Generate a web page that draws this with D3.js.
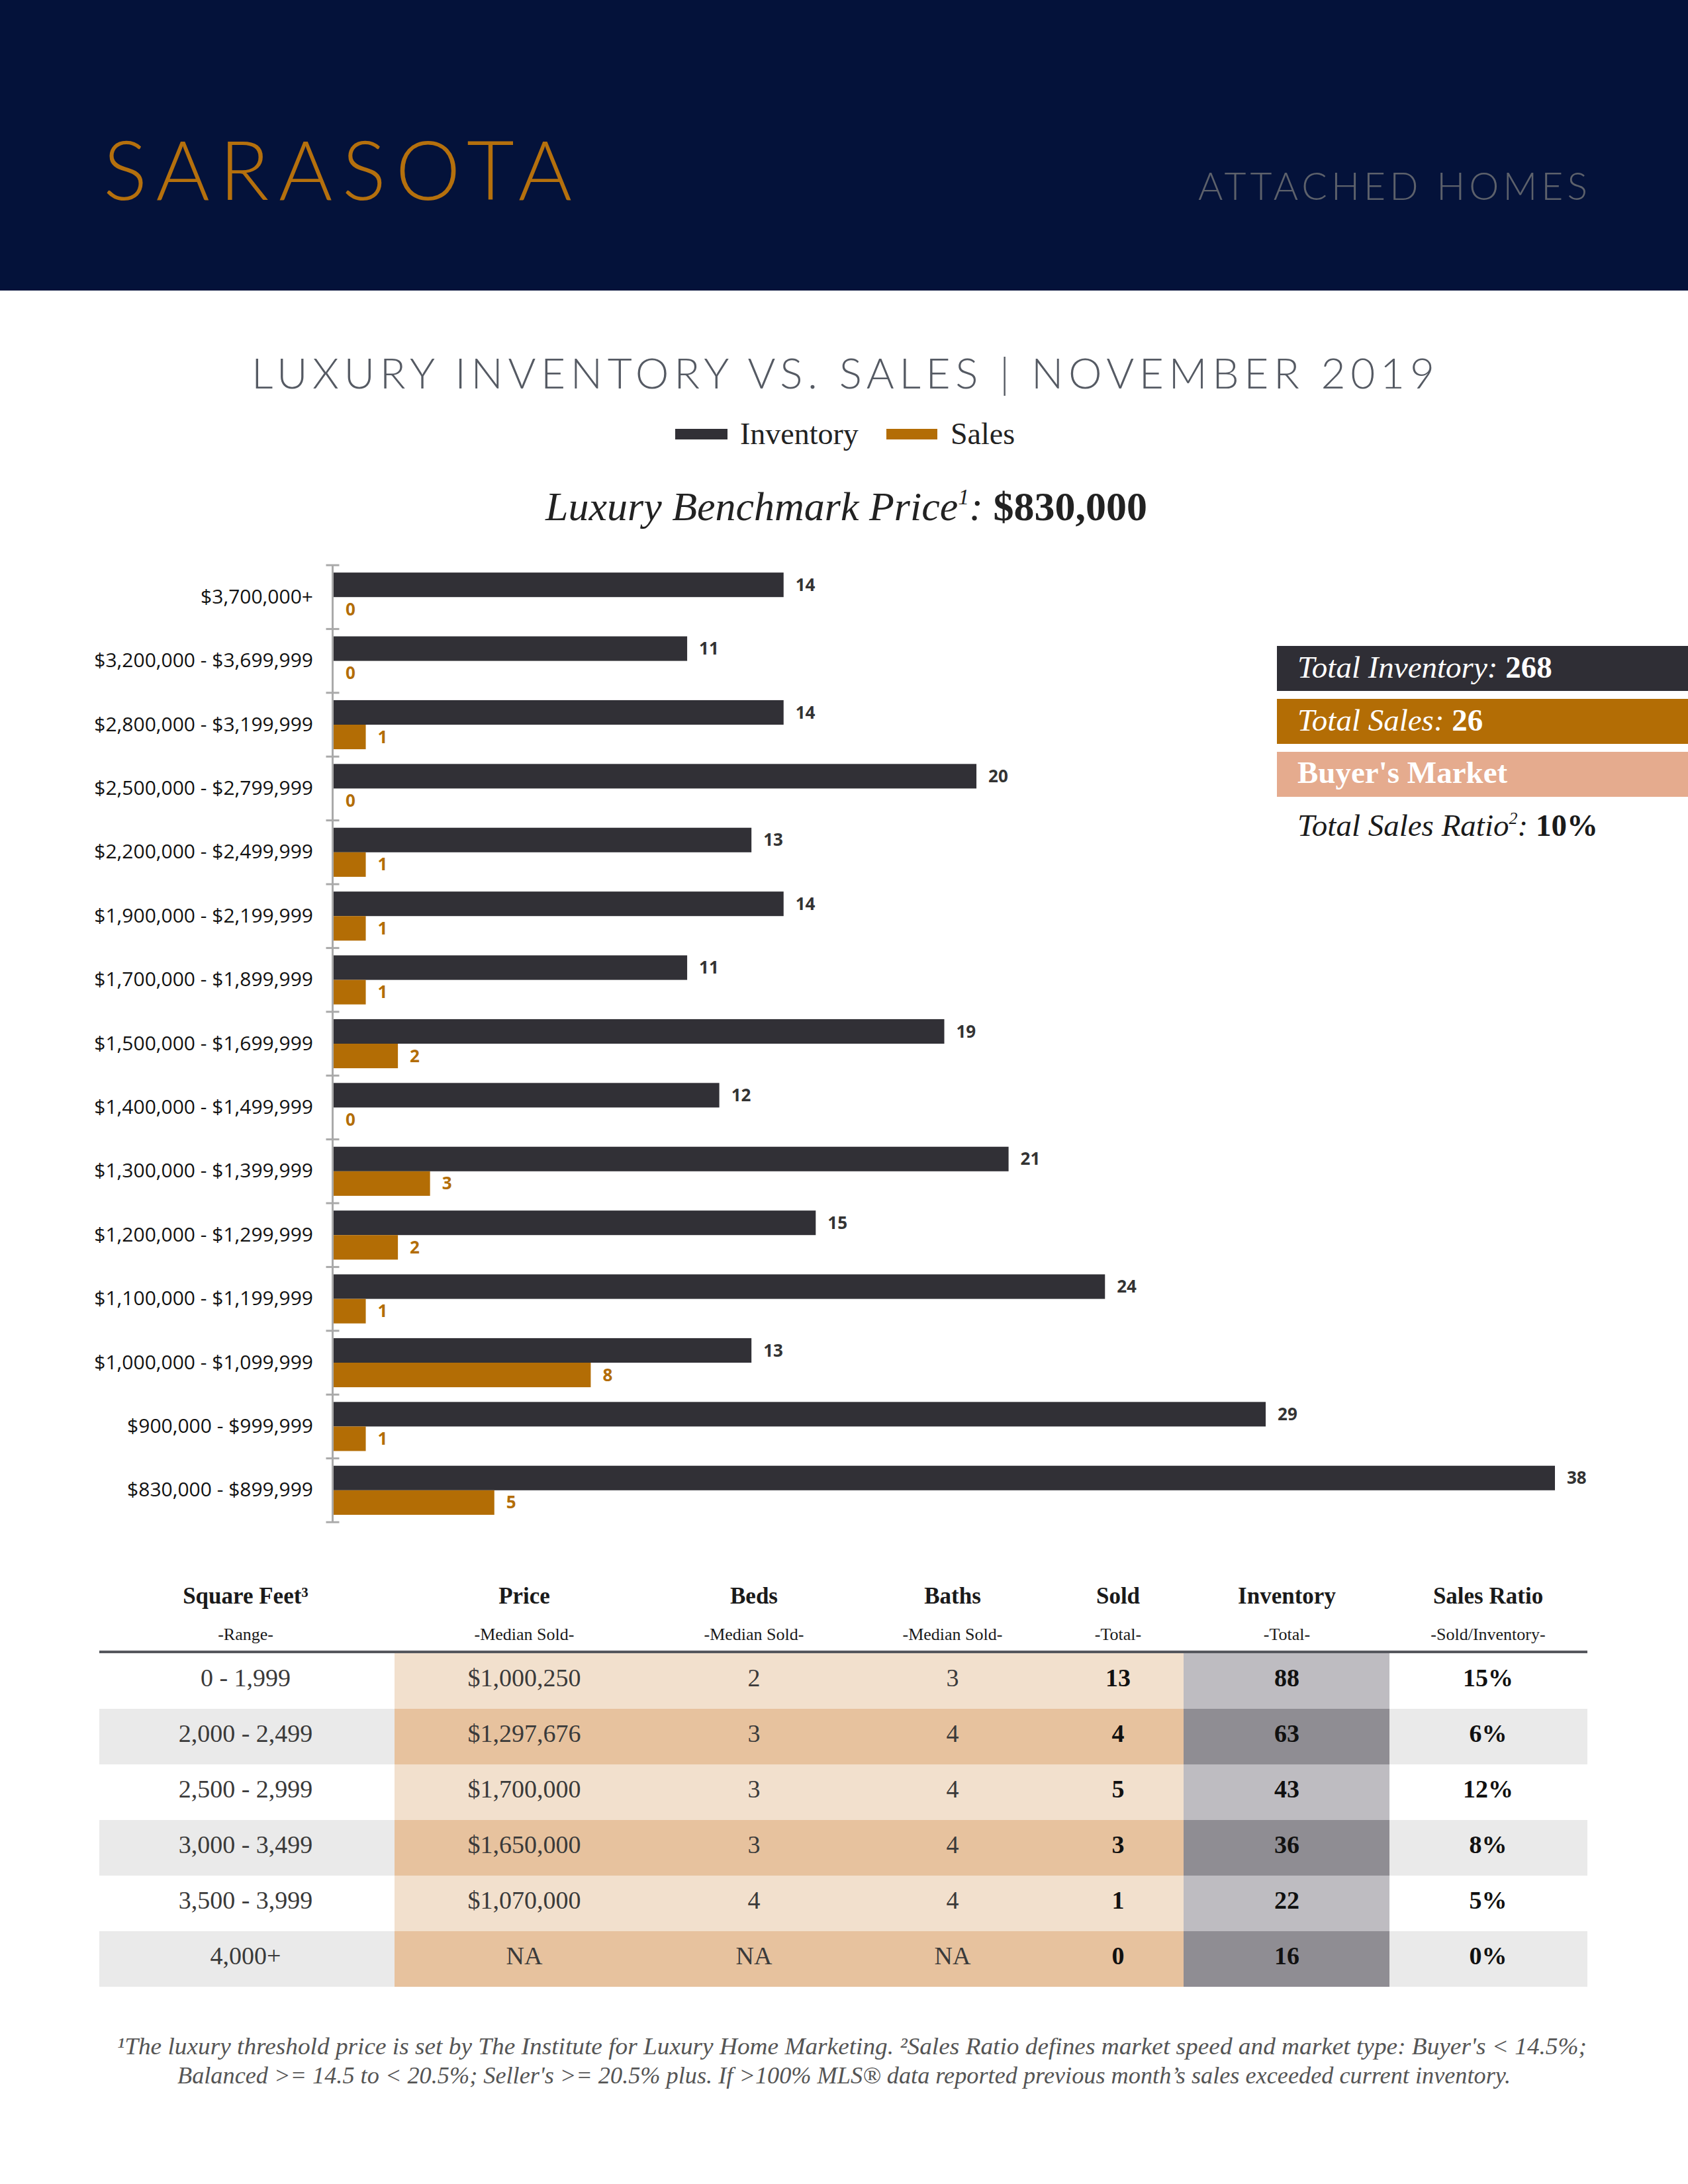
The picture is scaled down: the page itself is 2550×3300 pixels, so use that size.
<!DOCTYPE html>
<html>
<head>
<meta charset="utf-8">
<script src="https://cdn.jsdelivr.net/npm/d3@7"></script>
<style>
  html, body { margin: 0; padding: 0; background: #ffffff; }
  svg { display: block; }
</style>
</head>
<body>
<svg id="chart" width="2550" height="3300"></svg>
<script>
// ---------------- DATA ----------------
const categories = [
  "$3,700,000+",
  "$3,200,000 - $3,699,999",
  "$2,800,000 - $3,199,999",
  "$2,500,000 - $2,799,999",
  "$2,200,000 - $2,499,999",
  "$1,900,000 - $2,199,999",
  "$1,700,000 - $1,899,999",
  "$1,500,000 - $1,699,999",
  "$1,400,000 - $1,499,999",
  "$1,300,000 - $1,399,999",
  "$1,200,000 - $1,299,999",
  "$1,100,000 - $1,199,999",
  "$1,000,000 - $1,099,999",
  "$900,000 - $999,999",
  "$830,000 - $899,999"
];
const inventoryValues = [14, 11, 14, 20, 13, 14, 11, 19, 12, 21, 15, 24, 13, 29, 38];
const salesValues     = [0, 0, 1, 0, 1, 1, 1, 2, 0, 3, 2, 1, 8, 1, 5];
const seriesNames = ["Inventory", "Sales"];

const totalInventory = 268;
const totalSales = 26;
const marketType = "Buyer's Market";
const totalSalesRatio = "10%";
const benchmarkPrice = "$830,000";

const tableHeaders    = ["Square Feet³", "Price", "Beds", "Baths", "Sold", "Inventory", "Sales Ratio"];
const tableSubHeaders = ["-Range-", "-Median Sold-", "-Median Sold-", "-Median Sold-", "-Total-", "-Total-", "-Sold/Inventory-"];
const sqftRanges   = ["0 - 1,999", "2,000 - 2,499", "2,500 - 2,999", "3,000 - 3,499", "3,500 - 3,999", "4,000+"];
const medianPrices = ["$1,000,250", "$1,297,676", "$1,700,000", "$1,650,000", "$1,070,000", "NA"];
const medianBeds   = ["2", "3", "3", "3", "4", "NA"];
const medianBaths  = ["3", "4", "4", "4", "4", "NA"];
const soldTotals   = ["13", "4", "5", "3", "1", "0"];
const invTotals    = ["88", "63", "43", "36", "22", "16"];
const salesRatios  = ["15%", "6%", "12%", "8%", "5%", "0%"];

// ---------------- STYLE ----------------
const NAVY = "#04123a";
const INV_COLOR = "#313036";
const SALES_COLOR = "#b36d05";
const PEACH = "#e5ab8e";
const SERIF = "'Liberation Serif', 'DejaVu Serif', serif";
const SANS = "'Open Sans', 'Liberation Sans', sans-serif";
const GEO = "Lato, 'Open Sans', sans-serif";

const svg = d3.select("#chart");
svg.append("rect").attr("x", 0).attr("y", 0).attr("width", 2550).attr("height", 3300).attr("fill", "#fff");

// ---------------- HEADER ----------------
svg.append("rect").attr("x", 0).attr("y", 0).attr("width", 2550).attr("height", 439).attr("fill", NAVY);
svg.append("text").attr("x", 156).attr("y", 302)
  .attr("font-family", GEO).attr("font-weight", 300).attr("font-size", 124)
  .attr("fill", "#b5700d").attr("textLength", 708).attr("lengthAdjust", "spacing")
  .text("SARASOTA");
svg.append("text").attr("x", 1810).attr("y", 302)
  .attr("font-family", GEO).attr("font-weight", 300).attr("font-size", 57)
  .attr("fill", "#5d616b").attr("textLength", 588).attr("lengthAdjust", "spacing")
  .text("ATTACHED HOMES");

// Title
svg.append("text").attr("x", 380).attr("y", 587)
  .attr("font-family", GEO).attr("font-weight", 300).attr("font-size", 64)
  .attr("fill", "#555a63").attr("textLength", 1787).attr("lengthAdjust", "spacing")
  .text("LUXURY INVENTORY VS. SALES | NOVEMBER 2019");

// Legend
const color = d3.scaleOrdinal().domain(seriesNames).range([INV_COLOR, SALES_COLOR]);
const legendItems = [
  { name: "Inventory", x: 1020, w: 79, tx: 1118 },
  { name: "Sales", x: 1339, w: 77, tx: 1436 }
];
const lg = svg.append("g");
lg.selectAll("rect").data(legendItems).join("rect")
  .attr("x", d => d.x).attr("y", 648).attr("width", d => d.w).attr("height", 16)
  .attr("fill", d => color(d.name));
lg.selectAll("text").data(legendItems).join("text")
  .attr("x", d => d.tx).attr("y", 671)
  .attr("font-family", SERIF).attr("font-size", 46).attr("fill", "#222")
  .text(d => d.name);

// Benchmark
const bm = svg.append("text").attr("x", 824).attr("y", 786)
  .attr("font-family", SERIF).attr("font-size", 62).attr("fill", "#222");
bm.append("tspan").attr("font-style", "italic").text("Luxury Benchmark Price");
bm.append("tspan").attr("font-style", "italic").attr("font-size", 34).attr("dy", -24).text("1");
bm.append("tspan").attr("font-style", "italic").attr("dy", 24).text(": ");
bm.append("tspan").attr("font-weight", "bold").text(benchmarkPrice);

// ---------------- BAR CHART ----------------
const data = categories.map((c, i) => ({ cat: c, Inventory: inventoryValues[i], Sales: salesValues[i] }));
const y = d3.scaleBand().domain(categories).range([854, 2300]).padding(0);
const ySub = d3.scaleBand().domain(seriesNames).range([0, y.bandwidth()]).paddingInner(0).paddingOuter(0.3);
const x = d3.scaleLinear().domain([0, 38]).range([504, 2349]);

const groups = svg.append("g").selectAll("g").data(data).join("g")
  .attr("transform", d => `translate(0,${y(d.cat)})`);

groups.selectAll("rect").data(d => seriesNames.map(s => ({ s, v: d[s] }))).join("rect")
  .attr("x", x(0)).attr("y", d => ySub(d.s))
  .attr("width", d => x(d.v) - x(0)).attr("height", ySub.bandwidth())
  .attr("fill", d => color(d.s));

groups.selectAll("text.val").data(d => seriesNames.map(s => ({ s, v: d[s] }))).join("text")
  .attr("class", "val")
  .attr("x", d => x(d.v) + 18).attr("y", d => ySub(d.s) + ySub.bandwidth() / 2)
  .attr("dy", "0.35em")
  .attr("font-family", SANS).attr("font-weight", 700).attr("font-size", 26)
  .attr("fill", d => d.s === "Sales" ? SALES_COLOR : "#333")
  .text(d => d.v);

// Axis (labels)
const axis = svg.append("g").attr("transform", `translate(${x(0) - 1},0)`)
  .call(d3.axisLeft(y).tickSize(0).tickPadding(30));
axis.select(".domain").remove();
axis.selectAll("text").attr("font-family", SANS).attr("font-size", 30).attr("fill", "#111");

// axis line and boundary ticks
const axisX = 502.5;
svg.append("line").attr("x1", axisX).attr("x2", axisX).attr("y1", y.range()[0]).attr("y2", y.range()[1])
  .attr("stroke", "#aaa").attr("stroke-width", 3);
const boundaries = categories.map(c => y(c)).concat([y.range()[1]]);
svg.append("g").selectAll("line").data(boundaries).join("line")
  .attr("x1", axisX - 10).attr("x2", axisX + 10).attr("y1", d => d).attr("y2", d => d)
  .attr("stroke", "#aaa").attr("stroke-width", 3);

// ---------------- SUMMARY BOXES ----------------
const boxX = 1929, boxW = 621, txtX = 1960;
svg.append("rect").attr("x", boxX).attr("y", 976).attr("width", boxW).attr("height", 68).attr("fill", "#2f2e35");
svg.append("rect").attr("x", boxX).attr("y", 1056).attr("width", boxW).attr("height", 68).attr("fill", SALES_COLOR);
svg.append("rect").attr("x", boxX).attr("y", 1136).attr("width", boxW).attr("height", 68).attr("fill", PEACH);

const t1 = svg.append("text").attr("x", txtX).attr("y", 1024).attr("font-family", SERIF).attr("font-size", 47).attr("fill", "#fff");
t1.append("tspan").attr("font-style", "italic").text("Total Inventory: ");
t1.append("tspan").attr("font-weight", "bold").text(totalInventory);
const t2 = svg.append("text").attr("x", txtX).attr("y", 1104).attr("font-family", SERIF).attr("font-size", 47).attr("fill", "#fff");
t2.append("tspan").attr("font-style", "italic").text("Total Sales: ");
t2.append("tspan").attr("font-weight", "bold").text(totalSales);
svg.append("text").attr("x", txtX).attr("y", 1183).attr("font-family", SERIF).attr("font-size", 47)
  .attr("font-weight", "bold").attr("fill", "#fff").text(marketType);
const t4 = svg.append("text").attr("x", txtX).attr("y", 1263).attr("font-family", SERIF).attr("font-size", 47).attr("fill", "#1a1a1a");
t4.append("tspan").attr("font-style", "italic").text("Total Sales Ratio");
t4.append("tspan").attr("font-style", "italic").attr("font-size", 26).attr("dy", -18).text("2");
t4.append("tspan").attr("font-style", "italic").attr("dy", 18).text(": ");
t4.append("tspan").attr("font-weight", "bold").text(totalSalesRatio);

// ---------------- TABLE ----------------
const colCenters = [371, 792, 1139, 1439, 1689, 1944, 2248];
const tableLeft = 150, tableRight = 2398;
const rowTop = 2498, rowH = 84;
const rows = sqftRanges.map((s, i) => [s, medianPrices[i], medianBeds[i], medianBaths[i], soldTotals[i], invTotals[i], salesRatios[i]]);
const rowY = d3.scaleBand().domain(d3.range(rows.length)).range([rowTop, rowTop + rowH * rows.length]);

// backgrounds
const tg = svg.append("g");
rows.forEach((r, i) => {
  const odd = i % 2 === 1;
  const yy = rowY(i);
  if (odd) tg.append("rect").attr("x", tableLeft).attr("y", yy).attr("width", tableRight - tableLeft).attr("height", rowH).attr("fill", "#eaeaea");
  tg.append("rect").attr("x", 596).attr("y", yy).attr("width", 1788 - 596).attr("height", rowH).attr("fill", odd ? "#e7c29e" : "#f2e0cd");
  tg.append("rect").attr("x", 1788).attr("y", yy).attr("width", 2099 - 1788).attr("height", rowH).attr("fill", odd ? "#8f8d93" : "#bebcc1");
});
// header line
svg.append("rect").attr("x", tableLeft).attr("y", 2494).attr("width", tableRight - tableLeft).attr("height", 4).attr("fill", "#56585e");

// headers
svg.append("g").selectAll("text").data(tableHeaders).join("text")
  .attr("x", (d, i) => colCenters[i]).attr("y", 2423).attr("text-anchor", "middle")
  .attr("font-family", SERIF).attr("font-weight", "bold").attr("font-size", 35).attr("fill", "#1a1a1a")
  .text(d => d);
svg.append("g").selectAll("text").data(tableSubHeaders).join("text")
  .attr("x", (d, i) => colCenters[i]).attr("y", 2478).attr("text-anchor", "middle")
  .attr("font-family", SERIF).attr("font-size", 26).attr("fill", "#1a1a1a")
  .text(d => d);

// cells
const cellG = svg.append("g");
rows.forEach((r, i) => {
  cellG.selectAll(null).data(r).join("text")
    .attr("x", (d, j) => colCenters[j]).attr("y", rowY(i) + rowH / 2 + 8)
    .attr("text-anchor", "middle").attr("font-family", SERIF).attr("font-size", 38)
    .attr("font-weight", (d, j) => j >= 4 ? "bold" : "normal")
    .attr("fill", (d, j) => j >= 4 ? "#111" : "#3a3a3a")
    .text(d => d);
});

// ---------------- FOOTNOTE ----------------
svg.append("text").attr("x", 1287).attr("y", 3104).attr("text-anchor", "middle")
  .attr("font-family", SERIF).attr("font-style", "italic").attr("font-size", 35).attr("fill", "#555")
  .attr("textLength", 2220).attr("lengthAdjust", "spacingAndGlyphs")
  .text("¹The luxury threshold price is set by The Institute for Luxury Home Marketing. ²Sales Ratio defines market speed and market type: Buyer's < 14.5%;");
svg.append("text").attr("x", 1275).attr("y", 3148).attr("text-anchor", "middle")
  .attr("font-family", SERIF).attr("font-style", "italic").attr("font-size", 35).attr("fill", "#555")
  .attr("textLength", 2014).attr("lengthAdjust", "spacingAndGlyphs")
  .text("Balanced >= 14.5 to < 20.5%; Seller's >= 20.5% plus. If >100% MLS® data reported previous month’s sales exceeded current inventory.");
</script>
</body>
</html>
